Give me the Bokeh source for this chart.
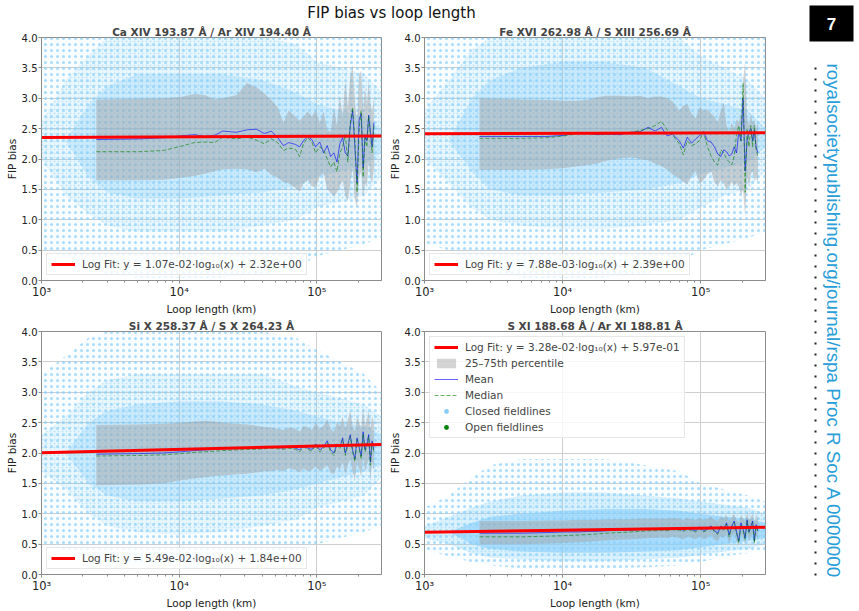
from bokeh.plotting import figure
from bokeh.layouts import row, column
from bokeh.models import Range1d, Legend, LegendItem, FixedTicker, NumeralTickFormatter
from bokeh.embed import file_html
from bokeh.resources import INLINE
from bokeh.core.properties import value

FONT = "DejaVu Sans"
SKY = "#87cefa"
AXC = "#8c8c8c"
NAN = float("nan")

# loop-length bin centres (km)
loop_km = [2.5e3, 5.1e3, 7.7e3, 1.03e4, 1.29e4, 1.55e4, 1.81e4, 2.07e4, 2.6e4, 3.12e4,
           3.64e4, 4.16e4, 4.68e4, 5.2e4, 5.72e4, 6.24e4, 7.0e4, 7.5e4, 8.0e4, 8.6e4,
           9.2e4, 9.8e4, 1.05e5, 1.12e5, 1.19e5, 1.26e5, 1.33e5, 1.4e5, 1.47e5, 1.54e5,
           1.61e5, 1.68e5, 1.75e5, 1.82e5, 1.89e5, 1.96e5, 2.03e5, 2.1e5, 2.17e5, 2.24e5,
           2.31e5, 2.38e5, 2.45e5, 2.52e5, 2.6e5]

# ---- Ca XIV / Ar XIV ----
ca_mean = [2.32, 2.33, 2.35, 2.38, 2.40, 2.37, 2.39, 2.46, 2.44, 2.48,
           2.49, 2.42, 2.46, 2.35, 2.22, 2.27, 2.24, 2.20, 2.30, 2.37,
           2.32, 2.20, 2.28, 2.10, 2.22, 2.04, 2.10, 1.95, 2.25, 2.35,
           2.10, 2.05, 2.55, 2.80, 2.20, 1.60, 2.65, 2.75, 1.85, 2.40,
           2.30, 2.72, 2.45, 2.20, 2.60]
ca_median = [2.12, 2.12, 2.14, 2.21, 2.27, 2.28, 2.27, 2.36, 2.33, 2.36,
             2.31, 2.25, 2.33, 2.27, 2.14, 2.18, 2.16, 2.04, 2.25, 2.35,
             2.28, 2.10, 2.20, 2.15, 2.00, 1.87, 1.95, 1.79, 2.10, 2.20,
             2.40, 1.95, 2.60, 2.85, 2.30, 1.45, 2.50, 2.80, 1.70, 2.35,
             2.20, 2.70, 2.40, 2.10, 2.55]
ca_q75 = [2.98, 2.99, 3.00, 3.02, 3.07, 3.05, 2.98, 3.00, 3.05, 3.25,
          3.18, 3.08, 2.97, 2.85, 2.60, 2.80, 2.70, 2.63, 2.70, 2.78,
          2.70, 2.80, 2.60, 2.78, 2.48, 2.45, 2.85, 2.55, 3.05, 2.70,
          3.30, 2.85, 3.35, 3.55, 2.95, 2.60, 3.40, 3.45, 2.80, 3.20,
          2.90, 3.30, 2.90, 2.80, 3.00]
ca_q25 = [1.65, 1.65, 1.66, 1.69, 1.72, 1.76, 1.80, 1.83, 1.84, 1.83,
          1.78, 1.84, 1.74, 1.69, 1.62, 1.60, 1.52, 1.46, 1.60, 1.66,
          1.55, 1.53, 1.72, 1.77, 1.50, 1.45, 1.38, 1.45, 1.55, 1.65,
          1.40, 1.30, 1.60, 1.85, 1.33, 1.20, 1.70, 1.80, 1.35, 1.60,
          1.55, 1.95, 1.70, 1.60, 1.85]

# ---- Fe XVI / S XIII ----
fe_mean = [2.37, 2.37, 2.37, 2.39, 2.44, 2.42, 2.40, 2.41, 2.40, 2.44,
           2.45, 2.52, 2.46, 2.52, 2.38, 2.41, 2.30, 2.18, 2.36, 2.26,
           2.33, 2.38, 2.45, 2.30, 2.28, 2.20, 2.08, 2.04, 2.15, 2.12,
           2.05, 2.08, 2.20, 2.10, 2.45, 2.30, 3.00, 1.80, 2.30, 2.45,
           2.50, 2.30, 2.48, 2.20, 2.10]
fe_median = [2.34, 2.34, 2.35, 2.38, 2.42, 2.42, 2.41, 2.41, 2.42, 2.44,
             2.47, 2.50, 2.55, 2.62, 2.48, 2.40, 2.25, 2.07, 2.30, 2.22,
             2.25, 2.30, 2.45, 2.20, 2.05, 1.95, 1.90, 2.15, 2.10, 2.00,
             1.95, 1.90, 2.05, 2.40, 2.55, 2.30, 3.25, 1.45, 2.50, 2.20,
             2.55, 2.20, 2.55, 2.15, 2.05]
fe_q75 = [3.00, 2.98, 2.97, 2.96, 2.96, 2.98, 3.02, 3.04, 3.04, 3.03,
          3.04, 3.00, 3.03, 3.03, 3.00, 2.95, 2.80, 2.88, 2.90, 2.75,
          2.67, 2.85, 2.80, 2.82, 2.75, 2.70, 2.60, 2.80, 2.94, 2.55,
          2.45, 2.60, 2.50, 2.65, 2.60, 2.75, 3.30, 3.60, 2.70, 2.55,
          2.75, 2.60, 2.65, 2.50, 2.60]
fe_q25 = [1.82, 1.82, 1.83, 1.85, 1.88, 1.90, 1.93, 1.97, 2.01, 2.03,
          2.00, 1.98, 1.92, 1.88, 1.83, 1.75, 1.68, 1.62, 1.58, 1.72,
          1.80, 1.60, 1.65, 1.75, 1.80, 1.62, 1.55, 1.65, 1.60, 1.50,
          1.55, 1.62, 1.55, 1.60, 1.55, 1.40, 1.50, 1.05, 1.70, 1.55,
          1.75, 1.80, 1.65, 1.70, 1.60]

# ---- Si X / S X ----
si_mean = [1.98, 1.99, 2.00, 2.02, 2.04, 2.05, 2.06, 2.07, 2.07, 2.08,
           2.08, 2.09, 2.10, 2.09, 2.08, 2.10, 2.08, 2.05, 2.12, 2.08,
           2.06, 2.15, 2.05, 2.10, 2.20, 2.05, 2.00, 2.15, 2.10, 2.25,
           2.00, 2.15, 2.30, 2.05, 1.90, 2.25, 2.10, 1.95, 2.35, 2.05,
           2.15, 2.30, 1.85, 2.20, 2.05]
si_median = [1.95, 1.96, 1.97, 1.99, 2.01, 2.02, 2.03, 2.04, 2.05, 2.06,
             2.06, 2.07, 2.08, 2.07, 2.06, 2.08, 2.06, 2.02, 2.10, 2.06,
             2.03, 2.13, 2.02, 2.08, 2.17, 2.02, 1.96, 2.12, 2.07, 2.22,
             1.96, 2.12, 2.27, 2.02, 1.86, 2.22, 2.07, 1.90, 2.32, 2.02,
             2.12, 2.27, 1.80, 2.17, 2.02]
si_q75 = [2.46, 2.47, 2.48, 2.50, 2.52, 2.53, 2.52, 2.50, 2.48, 2.47,
          2.45, 2.43, 2.42, 2.40, 2.38, 2.42, 2.40, 2.35, 2.45, 2.42,
          2.38, 2.50, 2.40, 2.45, 2.55, 2.40, 2.35, 2.50, 2.45, 2.60,
          2.40, 2.55, 2.70, 2.45, 2.35, 2.60, 2.50, 2.40, 2.75, 2.45,
          2.55, 2.70, 2.40, 2.60, 2.50]
si_q25 = [1.47, 1.48, 1.50, 1.55, 1.58, 1.60, 1.62, 1.63, 1.65, 1.66,
          1.68, 1.70, 1.70, 1.72, 1.70, 1.75, 1.72, 1.68, 1.75, 1.70,
          1.72, 1.78, 1.70, 1.75, 1.80, 1.68, 1.65, 1.78, 1.72, 1.85,
          1.65, 1.80, 1.90, 1.70, 1.55, 1.85, 1.75, 1.60, 1.95, 1.70,
          1.80, 1.90, 1.55, 1.85, 1.70]

# ---- S XI / Ar XI ----
s_mean = [0.68, 0.68, 0.69, 0.70, 0.70, 0.71, 0.71, 0.72, 0.73, 0.73,
          0.74, 0.75, 0.75, 0.76, 0.75, 0.76, 0.75, 0.73, 0.77, 0.74,
          0.72, 0.78, 0.72, 0.75, 0.80, 0.72, 0.68, 0.80, 0.75, 0.85,
          0.65, 0.80, 0.88, 0.70, 0.55, 0.85, 0.75, 0.60, 0.90, 0.70,
          0.80, 0.88, 0.55, 0.82, 0.72]
s_median = [0.62, 0.62, 0.63, 0.64, 0.65, 0.66, 0.67, 0.68, 0.69, 0.70,
            0.71, 0.72, 0.72, 0.73, 0.72, 0.74, 0.73, 0.71, 0.75, 0.72,
            0.70, 0.76, 0.70, 0.73, 0.78, 0.70, 0.66, 0.78, 0.73, 0.83,
            0.62, 0.78, 0.86, 0.68, 0.52, 0.83, 0.73, 0.58, 0.88, 0.68,
            0.78, 0.86, 0.52, 0.80, 0.70]
s_q75 = [0.88, 0.88, 0.89, 0.89, 0.90, 0.90, 0.90, 0.91, 0.91, 0.91,
         0.92, 0.92, 0.92, 0.92, 0.92, 0.93, 0.92, 0.90, 0.93, 0.91,
         0.90, 0.93, 0.90, 0.92, 0.95, 0.90, 0.88, 0.95, 0.92, 0.98,
         0.88, 0.95, 1.00, 0.90, 0.85, 0.98, 0.93, 0.87, 1.02, 0.90,
         0.95, 1.00, 0.85, 0.98, 0.92]
s_q25 = [0.50, 0.50, 0.51, 0.52, 0.53, 0.54, 0.55, 0.56, 0.57, 0.58,
         0.59, 0.60, 0.60, 0.61, 0.60, 0.62, 0.60, 0.58, 0.62, 0.60,
         0.58, 0.63, 0.58, 0.60, 0.65, 0.57, 0.55, 0.63, 0.60, 0.66,
         0.52, 0.62, 0.68, 0.55, 0.48, 0.66, 0.60, 0.50, 0.70, 0.56,
         0.62, 0.68, 0.48, 0.65, 0.58]

# log-fit coefficients  y = slope*log10(x) + intercept
fit_slope = [1.07e-02, 7.88e-03, 5.49e-02, 3.28e-02]
fit_icpt = [2.32e+00, 2.39e+00, 1.84e+00, 5.97e-01]

# closed-fieldline point cloud: loop lengths and density envelopes (FIP bias)
cloud_x = [1.0e3, 1.5e3, 2.2e3, 3.0e3, 5.0e3, 1.0e4, 2.0e4, 4.0e4, 7.0e4, 1.0e5, 1.5e5, 2.2e5, 2.95e5]
ca_cloud = {
    "sparse": ([0.5, 0.4, 0.3, 0.1, 0.05, 0.05, 0.05, 0.1, 0.2, 0.4, 0.5, 0.6, 0.7],
               [4.0, 4.0, 4.0, 4.0, 4.0, 4.0, 4.0, 4.0, 4.0, 4.0, 4.0, 4.0, 4.0]),
    "mid": ([2.0, 1.4, 1.1, 0.9, 0.8, 0.8, 0.8, 0.9, 1.0, 1.2, 1.3, 1.4, 1.7],
            [2.6, 3.3, 3.7, 4.0, 4.0, 4.0, 4.0, 4.0, 3.9, 3.6, 3.5, 3.4, 3.1]),
    "core": ([2.3, 2.3, 1.7, 1.45, 1.35, 1.35, 1.4, 1.45, 1.55, 1.7, 1.8, 1.9, 2.1],
             [2.3, 2.3, 2.9, 3.2, 3.4, 3.4, 3.4, 3.3, 3.1, 2.9, 2.8, 2.7, 2.5]),
}
fe_cloud = {
    "sparse": ([0.6, 0.5, 0.3, 0.15, 0.05, 0.05, 0.05, 0.1, 0.3, 0.5, 0.6, 0.7, 0.8],
               [4.0, 4.0, 4.0, 4.0, 4.0, 4.0, 4.0, 4.0, 4.0, 4.0, 4.0, 4.0, 4.0]),
    "mid": ([2.0, 1.6, 1.2, 1.0, 0.9, 0.85, 0.85, 0.9, 1.0, 1.2, 1.4, 1.5, 1.8],
            [2.8, 3.3, 3.8, 4.0, 4.0, 4.0, 4.0, 4.0, 4.0, 3.7, 3.5, 3.3, 3.0]),
    "core": ([2.3, 2.3, 1.8, 1.5, 1.4, 1.4, 1.45, 1.5, 1.6, 1.75, 1.85, 1.95, 2.2],
             [2.3, 2.3, 3.0, 3.3, 3.5, 3.6, 3.6, 3.5, 3.2, 3.0, 2.9, 2.8, 2.5]),
}
si_cloud = {
    "sparse": ([0.5, 0.4, 0.3, 0.2, 0.15, 0.15, 0.2, 0.25, 0.35, 0.5, 0.6, 0.7, 0.8],
               [3.3, 3.6, 3.9, 4.0, 4.0, 4.0, 4.0, 4.0, 3.9, 3.7, 3.5, 3.3, 3.0]),
    "mid": ([1.7, 1.4, 1.0, 0.8, 0.7, 0.65, 0.7, 0.8, 0.9, 1.1, 1.2, 1.3, 1.6],
            [2.3, 2.6, 3.0, 3.2, 3.3, 3.3, 3.3, 3.3, 3.1, 3.0, 2.9, 2.8, 2.6]),
    "core": ([2.0, 2.0, 1.5, 1.3, 1.2, 1.2, 1.25, 1.3, 1.4, 1.5, 1.6, 1.7, 1.8],
             [2.0, 2.0, 2.5, 2.7, 2.8, 2.85, 2.85, 2.8, 2.7, 2.6, 2.5, 2.45, 2.3]),
}
s_cloud = {
    "sparse": ([0.4, 0.3, 0.2, 0.15, 0.1, 0.1, 0.1, 0.12, 0.15, 0.2, 0.3, 0.35, 0.4],
               [1.1, 1.3, 1.6, 1.8, 1.9, 1.9, 1.9, 1.8, 1.7, 1.5, 1.4, 1.3, 1.2]),
    "mid": ([0.6, 0.5, 0.35, 0.28, 0.25, 0.22, 0.22, 0.25, 0.28, 0.32, 0.38, 0.42, 0.5],
            [0.8, 0.95, 1.1, 1.2, 1.3, 1.35, 1.35, 1.3, 1.25, 1.2, 1.15, 1.1, 1.0]),
    "core": ([0.7, 0.7, 0.5, 0.42, 0.38, 0.36, 0.36, 0.38, 0.4, 0.45, 0.5, 0.55, 0.6],
             [0.7, 0.7, 0.85, 0.95, 1.0, 1.05, 1.08, 1.08, 1.05, 1.0, 0.95, 0.92, 0.85]),
}

titles = ["Ca XIV 193.87 Å / Ar XIV 194.40 Å", "Fe XVI 262.98 Å / S XIII 256.69 Å",
          "Si X 258.37 Å / S X 264.23 Å", "S XI 188.68 Å / Ar XI 188.81 Å"]
y_ticks = [0.0, 0.5, 1.0, 1.5, 2.0, 2.5, 3.0, 3.5, 4.0]
x_tick_text = {1000: "10³", 10000: "10⁴", 100000: "10⁵"}
X_MIN, X_MAX = 1.0e3, 2.95e5

# texture for the three density levels of the cloud: dotted outskirts, solid core
CLOUD_STYLE = {
    "sparse": dict(hatch_pattern="dot", hatch_scale=6, hatch_alpha=0.7),
    "mid": dict(hatch_pattern="dot", hatch_scale=4, hatch_alpha=0.45),
    "core": dict(hatch_pattern=None, hatch_scale=4, hatch_alpha=0.0),
}
# fill opacity per density level, per panel (the S XI cloud is much more crowded)
CLOUD_ALPHA = [
    {"sparse": 0.04, "mid": 0.14, "core": 0.30},
    {"sparse": 0.04, "mid": 0.14, "core": 0.32},
    {"sparse": 0.04, "mid": 0.14, "core": 0.32},
    {"sparse": 0.05, "mid": 0.25, "core": 0.60},
]


def make_panel(idx, mean, median, q25, q75, cloud, width, height, border_r, border_b,
               full_legend):
    p = figure(x_axis_type="log", x_range=Range1d(X_MIN, X_MAX), y_range=Range1d(0, 4),
               width=width, height=height,
               min_border_left=41, min_border_right=border_r,
               min_border_top=13, min_border_bottom=border_b,
               output_backend="svg", toolbar_location=None)
    p.outline_line_color = AXC
    p.outline_line_alpha = 1.0

    p.title.text = titles[idx]
    p.title.text_font = FONT
    p.title.text_font_size = "10.5px"
    p.title.text_font_style = "bold"
    p.title.align = "center"
    p.title.standoff = 0
    p.title.offset = 0

    # point cloud of closed fieldlines
    for key in ("sparse", "mid", "core"):
        lo, hi = cloud[key]
        st = CLOUD_STYLE[key]
        p.varea(x=cloud_x, y1=lo, y2=hi, fill_color=SKY, fill_alpha=CLOUD_ALPHA[idx][key],
                hatch_pattern=st["hatch_pattern"], hatch_color=SKY,
                hatch_scale=st["hatch_scale"], hatch_weight=1.0,
                hatch_alpha=st["hatch_alpha"])

    band = p.varea(x=loop_km, y1=q25, y2=q75, fill_color="#a0a0a0", fill_alpha=0.45)
    mean_r = p.line(loop_km, mean, line_color="blue", line_alpha=0.6, line_width=1)
    med_r = p.line(loop_km, median, line_color="green", line_alpha=0.6, line_width=1,
                   line_dash="4 2")

    fx = [X_MIN, X_MAX]
    fy = [fit_slope[idx] * 3.0 + fit_icpt[idx],
          fit_slope[idx] * 5.469822 + fit_icpt[idx]]
    fit_r = p.line(fx, fy, line_color="red", line_width=3)

    fit_label = "Log Fit: y = %.2e\u00b7log\u2081\u2080(x) + %.2e" % (fit_slope[idx], fit_icpt[idx])
    items = [LegendItem(label=fit_label, renderers=[fit_r])]
    if full_legend:
        # legend proxies for the two point populations
        closed_r = p.scatter(x=[NAN], y=[NAN], size=2, color=SKY, line_color=None)
        open_r = p.scatter(x=[NAN], y=[NAN], size=3, color="green", line_color=None)
        items += [LegendItem(label="25\u201375th percentile", renderers=[band]),
                  LegendItem(label="Mean", renderers=[mean_r]),
                  LegendItem(label="Median", renderers=[med_r]),
                  LegendItem(label="Closed fieldlines", renderers=[closed_r]),
                  LegendItem(label="Open fieldlines", renderers=[open_r])]
    legend = Legend(items=items, location="top_left" if full_legend else "bottom_left")
    legend.label_text_font = FONT
    legend.label_text_font_size = "10.5px"
    legend.label_height = 12
    legend.glyph_height = 12
    legend.glyph_width = 24
    legend.label_standoff = 7
    legend.spacing = 4
    legend.padding = 4
    legend.margin = 5
    legend.border_line_color = "#d0d0d0"
    legend.background_fill_alpha = 0.8
    p.add_layout(legend)

    # axes
    p.xaxis.axis_label = "Loop length (km)"
    p.yaxis.axis_label = "FIP bias"
    for ax in (p.xaxis[0], p.yaxis[0]):
        ax.axis_label_text_font = FONT
        ax.axis_label_text_font_size = "10.5px"
        ax.axis_label_text_font_style = "normal"
        ax.axis_label_text_color = "#222222"
        ax.major_label_text_font = FONT
        ax.major_label_text_font_size = "10px"
        ax.major_label_text_color = "#222222"
        ax.axis_line_color = AXC
        ax.major_tick_line_color = AXC
        ax.minor_tick_line_color = AXC
        ax.major_tick_out = 3
        ax.major_tick_in = 0
        ax.minor_tick_out = 2
        ax.minor_tick_in = 0
        ax.major_label_standoff = 1
        ax.axis_label_standoff = 1
    p.xaxis.major_label_overrides = x_tick_text
    p.xaxis.major_label_text_font_size = "11.5px"
    p.yaxis.ticker = FixedTicker(ticks=y_ticks)
    p.yaxis.formatter = NumeralTickFormatter(format="0.0")
    p.yaxis.minor_tick_line_color = None
    p.grid.grid_line_color = "#cfcfcf"
    p.grid.grid_line_width = 1
    return p


p1 = make_panel(0, ca_mean, ca_median, ca_q25, ca_q75, ca_cloud, 383, 294, 2, 35, False)
p2 = make_panel(1, fe_mean, fe_median, fe_q25, fe_q75, fe_cloud, 387, 294, 5, 35, False)
p3 = make_panel(2, si_mean, si_median, si_q25, si_q75, si_cloud, 383, 294, 2, 35, False)
p4 = make_panel(3, s_mean, s_median, s_q25, s_q75, s_cloud, 387, 294, 5, 35, True)

# figure heading
head = figure(width=770, height=23, x_range=Range1d(0, 770), y_range=Range1d(23, 0),
              x_axis_location=None, y_axis_location=None, min_border=0,
              output_backend="svg", toolbar_location=None)
head.grid.visible = False
head.outline_line_color = None
head.text(x=[391], y=[12], text=["FIP bias vs loop length"], text_font=value(FONT),
          text_font_size="15px", text_align="center", text_baseline="middle",
          text_color="#111111")

# journal page margin: page number and running header
side = figure(width=89, height=611, x_range=Range1d(770, 859), y_range=Range1d(611, 0),
              x_axis_location=None, y_axis_location=None, min_border=0,
              output_backend="svg", toolbar_location=None)
side.grid.visible = False
side.outline_line_color = None
side.quad(left=[809], right=[853], top=[5], bottom=[41], fill_color="black", line_color=None)
side.text(x=[831], y=[23], text=["7"], text_font=value("Liberation Sans"),
          text_font_size="17px", text_font_style="bold", text_color="white",
          text_align="center", text_baseline="middle")
side.segment(x0=[815], y0=[67], x1=[815], y1=[584], line_color="#222222",
             line_width=2, line_dash="2 9")
side.text(x=[833], y=[63], text=["royalsocietypublishing.org/journal/rspa  Proc R Soc A 0000000"],
          angle=-1.5707963, text_font=value("Liberation Sans"), text_font_size="18.8px",
          text_color="#2a9ed8", text_align="left", text_baseline="middle")

layout = row(column(head, row(p1, p2), row(p3, p4)), side)
open("out.html", "w").write(file_html(layout, INLINE))
